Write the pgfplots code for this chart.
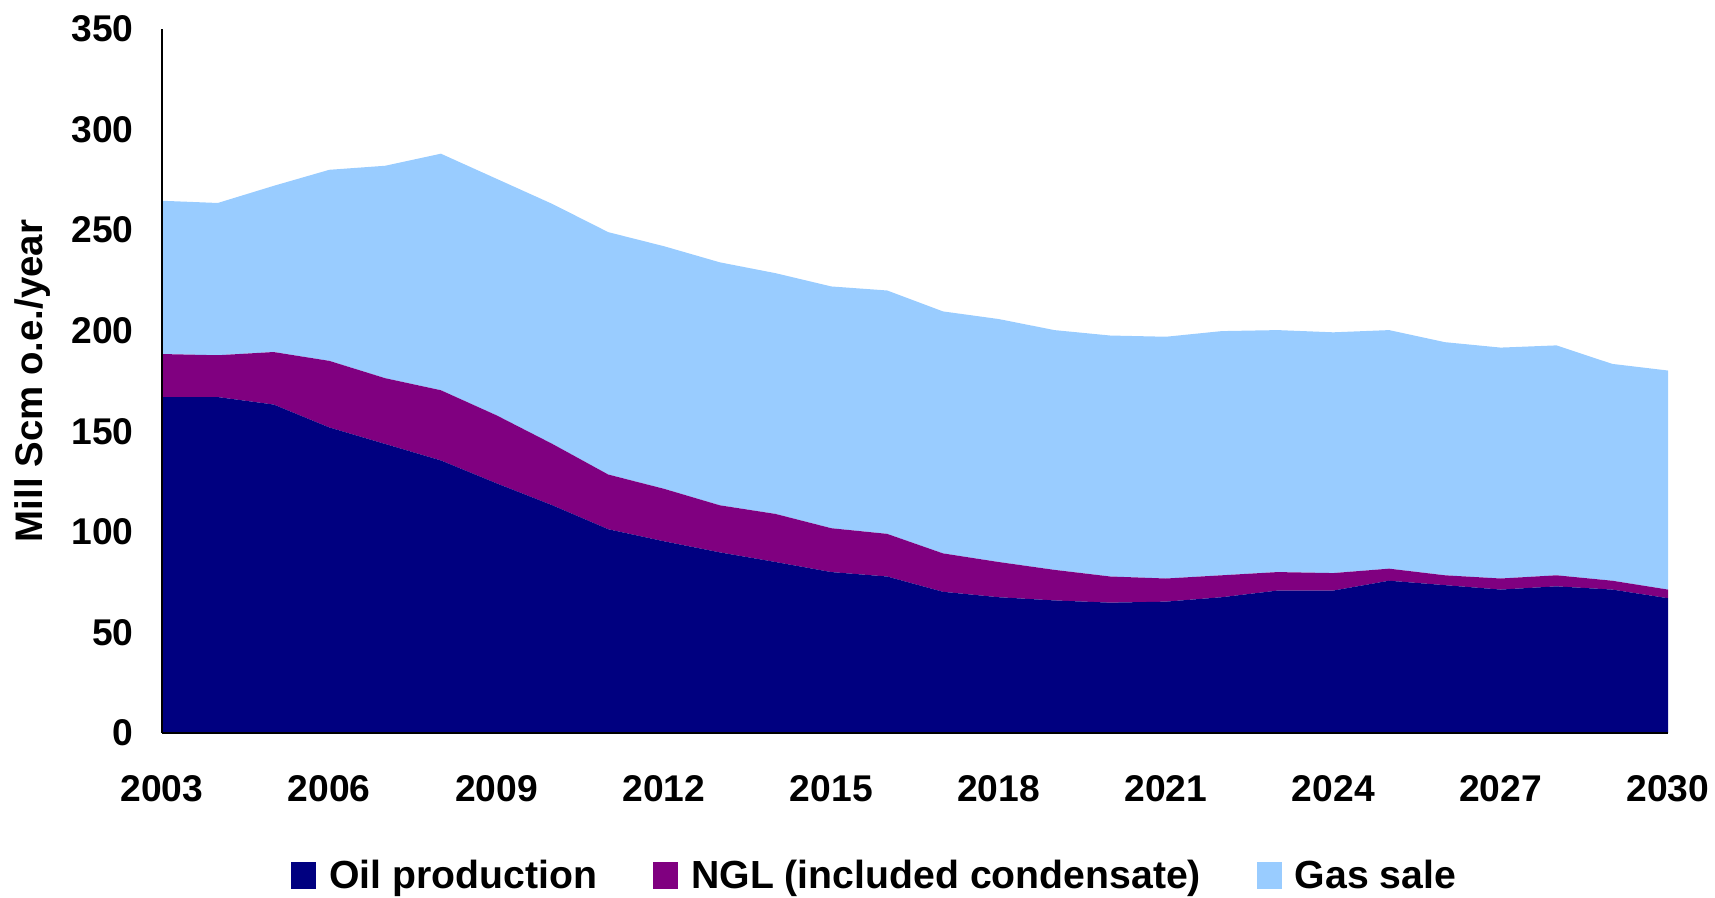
\documentclass[border=0pt]{standalone}
\usepackage{fontspec}
\setmainfont{Liberation Sans}
\usepackage{pgfplots}
\pgfplotsset{compat=1.18}
\definecolor{oilc}{HTML}{000080}
\definecolor{nglc}{HTML}{800080}
\definecolor{gasc}{HTML}{99CCFF}
\begin{document}
\begin{tikzpicture}
\begin{axis}[
  name=ax,
  scale only axis,
  width=753pt, height=352pt,
  xmin=2003, xmax=2030, ymin=0, ymax=350,
  stack plots=y,
  axis x line*=bottom, axis y line*=left,
  axis line style={black, line width=1pt, -},
  xtick={2003,2006,...,2030}, ytick={0,50,...,350},
  major tick length=0pt,
  x tick label style={/pgf/number format/1000 sep={}},
  /pgf/number format/assume math mode=true,
  tick label style={font=\fontsize{18.6}{20}\selectfont\bfseries, inner sep=0pt},
  yticklabel style={anchor=east, xshift=-14pt},
  xticklabel style={anchor=north, yshift=-21pt},
  ylabel={Mill Scm o.e./year},
  every axis y label/.style={at={(axis description cs:-0.0857,0.5)}, rotate=90, anchor=center, font=\fontsize{19.2}{21}\selectfont\bfseries},
  legend columns=3,
  legend style={draw=none, fill=none, inner sep=0pt, at={(axis description cs:0.0857,-0.2031)}, anchor=west,
    font=\fontsize{19.6}{21}\selectfont\bfseries,
    nodes={inner sep=0pt, anchor=west},
    /tikz/every odd column/.append style={column sep=6.5pt},
    /tikz/every even column/.append style={column sep=28pt}},
  legend image code/.code={\fill[#1] (0pt,-6.75pt) rectangle (12.5pt,6.75pt);},
  clip=false,
  axis on top,
]
\addplot[fill=oilc, draw=none] coordinates {
(2003,167) (2004,167) (2005,163.3) (2006,151.9) (2007,143.7) (2008,135.5) (2009,124.1)
(2010,113.2) (2011,101.3) (2012,95.3) (2013,89.8) (2014,85) (2015,80) (2016,77.8)
(2017,70.2) (2018,67.5) (2019,65.9) (2020,64.8) (2021,65.3) (2022,67.5) (2023,70.8)
(2024,70.8) (2025,75.7) (2026,73.5) (2027,71.3) (2028,72.9) (2029,71.3) (2030,67)
} \closedcycle;
\addlegendentry{Oil production}
\addplot[fill=nglc, draw=none] coordinates {
(2003,21.4) (2004,20.8) (2005,26.1) (2006,33.1) (2007,32.7) (2008,34.9) (2009,33.8)
(2010,30.5) (2011,27.2) (2012,26.1) (2013,23.4) (2014,23.9) (2015,21.8) (2016,21.2)
(2017,19.1) (2018,17.5) (2019,15.2) (2020,13) (2021,11.5) (2022,10.9) (2023,9.2)
(2024,8.7) (2025,6) (2026,4.9) (2027,5.5) (2028,5.5) (2029,4.4) (2030,4.3)
} \closedcycle;
\addlegendentry{NGL (included condensate)}
\addplot[fill=gasc, draw=none] coordinates {
(2003,76.2) (2004,75.7) (2005,82.6) (2006,95) (2007,105.6) (2008,117.6) (2009,117.6)
(2010,119.3) (2011,120.5) (2012,120.6) (2013,120.8) (2014,119.7) (2015,120.2) (2016,121)
(2017,120.3) (2018,120.8) (2019,119.2) (2020,119.8) (2021,120.2) (2022,121.4) (2023,120.3)
(2024,119.7) (2025,118.6) (2026,115.9) (2027,114.8) (2028,114.3) (2029,107.8) (2030,108.9)
} \closedcycle;
\addlegendentry{Gas sale}
\coordinate (O) at (rel axis cs:0,0);
\end{axis}
\pgfresetboundingbox
\path ([shift={(-81pt,-82.5pt)}]O) rectangle ([shift={(776.5pt,366.5pt)}]O);
\end{tikzpicture}
\end{document}
